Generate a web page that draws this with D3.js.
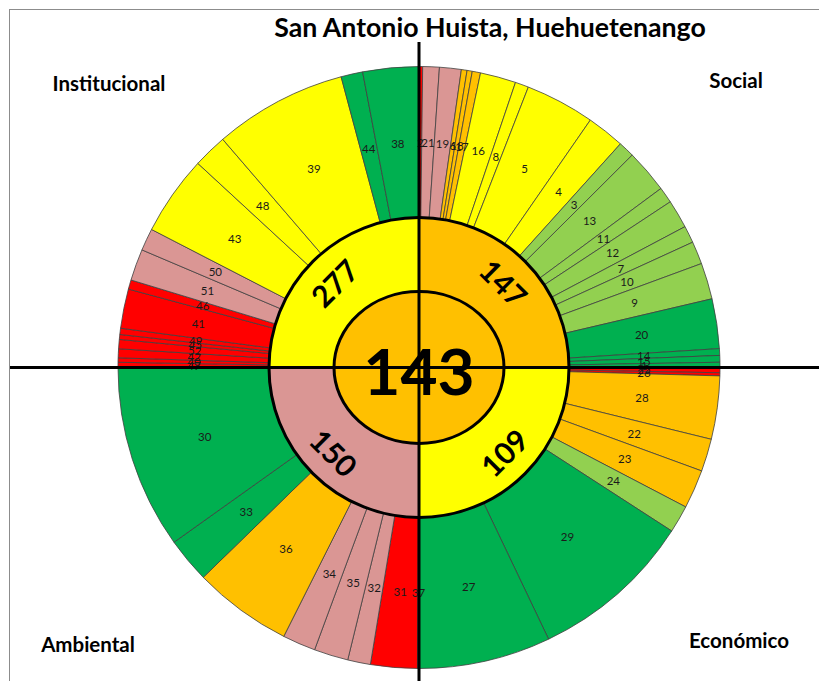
<!DOCTYPE html>
<html>
<head>
<meta charset="utf-8">
<script src="https://cdn.jsdelivr.net/npm/d3@7/dist/d3.min.js"></script>
<style>
  body { margin: 0; background: #fff; }
  text { font-family: Lato, "Open Sans", sans-serif; }
</style>
</head>
<body>
<svg id="chart" width="819" height="681"></svg>
<script>
// ---- data ----
const TITLE = 'San Antonio Huista, Huehuetenango';
const TOTAL = 143;
const TOTAL_RATING = 'naranja';

const dimensions = ['Social', 'Económico', 'Ambiental', 'Institucional'];
const dimensionTotals = [147, 109, 150, 277];
const dimensionRatings = ['naranja', 'amarillo', 'rosa', 'amarillo'];

// indicators per dimension, clockwise; shares = angular share inside the quarter
const socialIds = [2, 21, 19, 6, 18, 17, 16, 8, 5, 4, 3, 13, 11, 12, 7, 10, 9, 20, 14, 15, 1];
const socialShares = [0.7, 3.2, 4.2, 1.1, 1.0, 1.6, 6.9, 2.6, 13.4, 7.3, 3.1, 8.4, 3.1, 5.5, 3.3, 4.4, 7.0, 9.6, 1.3, 1.3, 1.0];
const socialRatings = ['rojo', 'rosa', 'rosa', 'naranja', 'naranja', 'naranja', 'amarillo', 'amarillo', 'amarillo', 'amarillo',
  'verdeClaro', 'verdeClaro', 'verdeClaro', 'verdeClaro', 'verdeClaro', 'verdeClaro', 'verdeClaro', 'verde', 'verde', 'verde', 'verde'];

const economicIds = [25, 26, 28, 22, 23, 24, 29, 27];
const economicShares = [1.0, 0.6, 12.2, 6.3, 7.5, 5.3, 31.6, 25.5];
const economicRatings = ['rojo', 'rojo', 'naranja', 'naranja', 'naranja', 'verdeClaro', 'verde', 'verde'];

const environmentIds = [37, 31, 32, 35, 34, 36, 33, 30];
const environmentShares = [0.3, 9.0, 4.4, 6.6, 6.4, 19.1, 8.7, 35.5];
const environmentRatings = ['rojo', 'rojo', 'rosa', 'rosa', 'rosa', 'naranja', 'verde', 'verde'];

const institutionalIds = [47, 40, 42, 52, 45, 49, 41, 46, 51, 50, 43, 48, 39, 44, 38];
const institutionalShares = [1.0, 0.85, 1.72, 1.78, 0.95, 1.2, 7.6, 1.8, 6.1, 4.3, 15.4, 6.6, 25.7, 4.2, 10.8];
const institutionalRatings = ['rojo', 'rojo', 'rojo', 'rojo', 'rojo', 'rojo', 'rojo', 'rojo', 'rosa', 'rosa',
  'amarillo', 'amarillo', 'amarillo', 'verde', 'verde'];

const ratingLevels = ['rojo', 'rosa', 'naranja', 'amarillo', 'verdeClaro', 'verde'];
const ratingColors = ['#FF0000', '#DA9694', '#FFC000', '#FFFF00', '#92D050', '#00B050'];

// ---- layout ----
const CX = 419, CY = 367.5;
const R_OUTER = 301, R_MID = 150, R_LABEL = 225;
const INNER_RX = 85, INNER_RY = 76;

const color = d3.scaleOrdinal().domain(ratingLevels).range(ratingColors);

const groups = [
  { ids: socialIds, shares: socialShares, ratings: socialRatings },
  { ids: economicIds, shares: economicShares, ratings: economicRatings },
  { ids: environmentIds, shares: environmentShares, ratings: environmentRatings },
  { ids: institutionalIds, shares: institutionalShares, ratings: institutionalRatings }
];

const svg = d3.select('#chart');

svg.append('rect')
  .attr('x', 9.5).attr('y', 9.5)
  .attr('width', 900).attr('height', 800)
  .attr('fill', 'none')
  .attr('stroke', '#8c8c8c');

const g = svg.append('g').attr('transform', `translate(${CX},${CY})`);

const quarter = Math.PI / 2;
const outerArc = d3.arc().innerRadius(R_MID).outerRadius(R_OUTER);

groups.forEach((grp, q) => {
  const rows = grp.ids.map((id, i) => ({ id, share: grp.shares[i], rating: grp.ratings[i] }));
  const pie = d3.pie()
    .value(d => d.share)
    .sort(null)
    .startAngle(q * quarter)
    .endAngle((q + 1) * quarter);
  const arcs = pie(rows);

  g.append('g').selectAll('path')
    .data(arcs)
    .join('path')
    .attr('d', outerArc)
    .attr('fill', d => color(d.data.rating))
    .attr('stroke', '#404040')
    .attr('stroke-width', 0.8);

  grp.arcs = arcs;
});

// outer slice labels
groups.forEach(grp => {
  g.append('g').selectAll('text')
    .data(grp.arcs)
    .join('text')
    .attr('x', d => R_LABEL * Math.sin((d.startAngle + d.endAngle) / 2))
    .attr('y', d => -R_LABEL * Math.cos((d.startAngle + d.endAngle) / 2))
    .attr('text-anchor', 'middle')
    .attr('dominant-baseline', 'central')
    .attr('font-size', 11.5)
    .attr('fill', '#1a1a1a')
    .text(d => d.data.id);
});

// middle ring: dimension totals
const midPie = d3.pie().value(1).sort(null);
const midArcs = midPie(dimensions);
const midArc = d3.arc().innerRadius(0).outerRadius(R_MID);

g.append('g').selectAll('path')
  .data(midArcs)
  .join('path')
  .attr('d', midArc)
  .attr('fill', (d, i) => color(dimensionRatings[i]));

g.append('circle')
  .attr('r', R_MID)
  .attr('fill', 'none')
  .attr('stroke', '#000')
  .attr('stroke-width', 3);

g.append('ellipse')
  .attr('rx', INNER_RX).attr('ry', INNER_RY)
  .attr('fill', color(TOTAL_RATING))
  .attr('stroke', '#000')
  .attr('stroke-width', 3);

g.append('g').selectAll('text')
  .data(midArcs)
  .join('text')
  .attr('transform', d => {
    const a = (d.startAngle + d.endAngle) / 2;
    const deg = a * 180 / Math.PI;
    let rot = deg % 180;
    if (rot > 90) rot -= 180;
    const x = 120 * Math.sin(a), y = -120 * Math.cos(a);
    return `translate(${x},${y}) rotate(${rot})`;
  })
  .attr('text-anchor', 'middle')
  .attr('dominant-baseline', 'central')
  .attr('font-size', 30)
  .attr('font-weight', 700)
  .text((d, i) => dimensionTotals[i]);

g.append('text')
  .attr('y', 3)
  .attr('text-anchor', 'middle')
  .attr('dominant-baseline', 'central')
  .attr('font-size', 64)
  .attr('font-weight', 700)
  .text(TOTAL);

// axis cross
svg.append('line')
  .attr('x1', 10).attr('x2', 819)
  .attr('y1', CY).attr('y2', CY)
  .attr('stroke', '#000').attr('stroke-width', 3);
svg.append('line')
  .attr('x1', CX).attr('x2', CX)
  .attr('y1', 42).attr('y2', 681)
  .attr('stroke', '#000').attr('stroke-width', 3);

// titles
svg.append('text')
  .attr('x', 490).attr('y', 37)
  .attr('text-anchor', 'middle')
  .attr('font-size', 26.7)
  .attr('font-weight', 700)
  .text(TITLE);

const cornerPos = [[736, 88], [739, 648], [88, 652], [109, 91]];
svg.append('g').selectAll('text')
  .data(dimensions)
  .join('text')
  .attr('x', (d, i) => cornerPos[i][0])
  .attr('y', (d, i) => cornerPos[i][1])
  .attr('text-anchor', 'middle')
  .attr('font-size', 20.5)
  .attr('font-weight', 700)
  .text(d => d);
</script>
</body>
</html>
